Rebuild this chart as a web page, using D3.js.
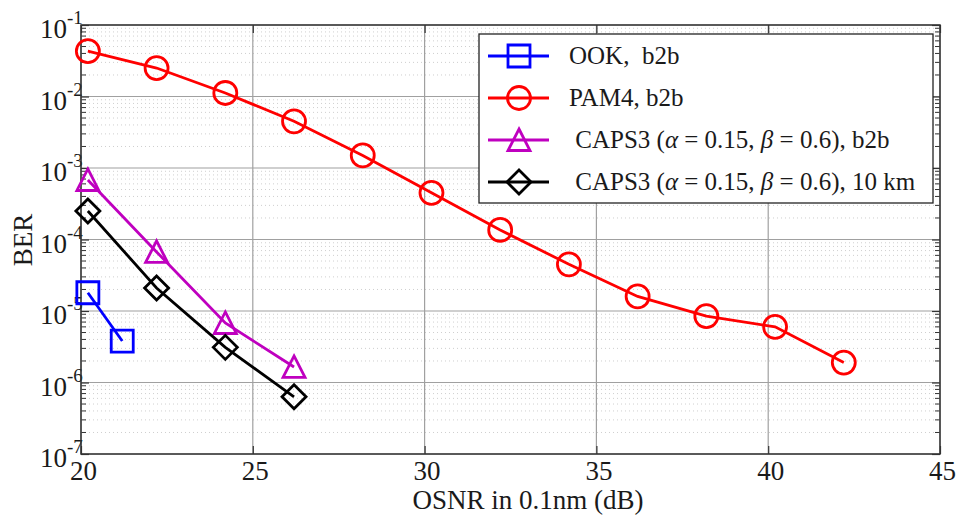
<!DOCTYPE html>
<html>
<head>
<meta charset="utf-8">
<script src="https://cdn.jsdelivr.net/npm/d3@7"></script>
<style>
  body { margin: 0; background: #fff; }
  text { font-family: "Liberation Serif", "Times New Roman", serif; fill: #1a1a1a; }
</style>
</head>
<body>
<script>
'use strict';

// OSNR (dB) values for each curve
const osnrOok = [20.2, 21.2];
const osnrPam4 = [20.2, 22.2, 24.2, 26.2, 28.2, 30.2, 32.2, 34.2, 36.2, 38.2, 40.2, 42.2];
const osnrCaps = [20.2, 22.2, 24.2, 26.2];

// BER values
const berOok = [1.8e-5, 3.8e-6];
const berPam4 = [4.3e-2, 2.5e-2, 1.12e-2, 4.5e-3, 1.5e-3, 4.5e-4, 1.36e-4, 4.5e-5, 1.6e-5, 8.5e-6, 6.0e-6, 1.9e-6];
const berCapsB2b = [6.8e-4, 6.7e-5, 6.8e-6, 1.65e-6];
const berCaps10km = [2.5e-4, 2.1e-5, 3.1e-6, 6.3e-7];

// axis ticks
const xTicks = [20, 25, 30, 35, 40, 45];
const yExponents = [-7, -6, -5, -4, -3, -2, -1];

(function() {

  let svgContainer = "";
  let margin = { left: 81, right: 940, top: 25, bottom: 454 };

  window.onload = function() {
    svgContainer = d3.select('body')
      .append('svg')
      .attr('width', 959)
      .attr('height', 519);

    let xScale = d3.scaleLinear().domain([20, 45]).range([margin.left, margin.right]);
    let yScale = d3.scaleLog().domain([1e-7, 1e-1]).range([margin.bottom, margin.top]);

    drawGrid(xScale, yScale);
    drawAxes(xScale, yScale);

    let series = [
      { name: 'OOK,  b2b', x: osnrOok, y: berOok, color: '#0000ff', marker: 'square' },
      { name: 'PAM4, b2b', x: osnrPam4, y: berPam4, color: '#ff0000', marker: 'circle' },
      { name: 'caps', x: osnrCaps, y: berCapsB2b, color: '#bf00bf', marker: 'triangle', tail: 'b2b' },
      { name: 'caps', x: osnrCaps, y: berCaps10km, color: '#000000', marker: 'diamond', tail: '10 km' }
    ];

    series.forEach((s) => plotSeries(s, xScale, yScale));
    makeLegend(series);
    makeLabels();
  };

  // marker path centred on 0,0
  function markerPath(type) {
    if (type === 'square') return 'M-11,-11H11V11H-11Z';
    if (type === 'triangle') return 'M0,-11L11,10.5H-11Z';
    if (type === 'diamond') return 'M0,-12L12,0L0,12L-12,0Z';
    return null;
  }

  function drawMarker(g, type, color, x, y) {
    if (type === 'circle') {
      g.append('circle')
        .attr('cx', x).attr('cy', y).attr('r', 11.5)
        .attr('fill', 'none').attr('stroke', color).attr('stroke-width', 2.8);
    } else {
      g.append('path')
        .attr('d', markerPath(type))
        .attr('transform', 'translate(' + x + ',' + y + ')')
        .attr('fill', 'none').attr('stroke', color).attr('stroke-width', 2.8)
        .attr('stroke-linejoin', 'miter');
    }
  }

  function drawGrid(xScale, yScale) {
    let grid = svgContainer.append('g');
    // minor horizontal grid (dotted)
    yExponents.slice(0, -1).forEach((e) => {
      for (let m = 2; m <= 9; m++) {
        let yy = yScale(m * Math.pow(10, e));
        grid.append('line')
          .attr('x1', margin.left).attr('x2', margin.right)
          .attr('y1', yy).attr('y2', yy)
          .attr('stroke', '#cfcfcf').attr('stroke-width', 1)
          .attr('stroke-dasharray', '1,3');
        // minor ticks left and right
        grid.append('line')
          .attr('x1', margin.left).attr('x2', margin.left + 5)
          .attr('y1', yy).attr('y2', yy)
          .attr('stroke', '#333').attr('stroke-width', 1);
        grid.append('line')
          .attr('x1', margin.right - 5).attr('x2', margin.right)
          .attr('y1', yy).attr('y2', yy)
          .attr('stroke', '#333').attr('stroke-width', 1);
      }
    });
    // major horizontal grid
    yExponents.forEach((e) => {
      let yy = yScale(Math.pow(10, e));
      grid.append('line')
        .attr('x1', margin.left).attr('x2', margin.right)
        .attr('y1', yy).attr('y2', yy)
        .attr('stroke', '#a0a0a0').attr('stroke-width', 1.2);
    });
    // major vertical grid
    xTicks.forEach((t) => {
      let xx = xScale(t);
      grid.append('line')
        .attr('x1', xx).attr('x2', xx)
        .attr('y1', margin.top).attr('y2', margin.bottom)
        .attr('stroke', '#a0a0a0').attr('stroke-width', 1.2);
    });
  }

  function drawAxes(xScale, yScale) {
    let axes = svgContainer.append('g');

    // bottom x axis
    let xAxis = d3.axisBottom(xScale).tickValues(xTicks).tickSize(-8).tickPadding(7).tickFormat(d3.format('d'));
    let gx = axes.append('g').attr('transform', 'translate(0,' + margin.bottom + ')').call(xAxis);
    gx.select('.domain').remove();
    gx.selectAll('.tick line').attr('stroke', '#333').attr('stroke-width', 1.2);
    gx.selectAll('.tick text')
      .attr('dx', 2)
      .style('font-family', '"Liberation Serif", serif')
      .style('font-size', '27px')
      .attr('fill', '#1a1a1a');

    // top ticks
    let gxTop = axes.append('g').attr('transform', 'translate(0,' + margin.top + ')')
      .call(d3.axisTop(xScale).tickValues(xTicks).tickSize(-8).tickFormat(''));
    gxTop.select('.domain').remove();
    gxTop.selectAll('.tick line').attr('stroke', '#333').attr('stroke-width', 1.2);

    // left/right major ticks
    let yTickVals = yExponents.map((e) => Math.pow(10, e));
    let gyL = axes.append('g').attr('transform', 'translate(' + margin.left + ',0)')
      .call(d3.axisLeft(yScale).tickValues(yTickVals).tickSize(-8).tickFormat(''));
    gyL.select('.domain').remove();
    gyL.selectAll('.tick line').attr('stroke', '#333').attr('stroke-width', 1.2);
    let gyR = axes.append('g').attr('transform', 'translate(' + margin.right + ',0)')
      .call(d3.axisRight(yScale).tickValues(yTickVals).tickSize(-8).tickFormat(''));
    gyR.select('.domain').remove();
    gyR.selectAll('.tick line').attr('stroke', '#333').attr('stroke-width', 1.2);

    // y tick labels 10^e
    yExponents.forEach((e) => {
      let yy = yScale(Math.pow(10, e));
      axes.append('text')
        .attr('x', 67).attr('y', yy + 13)
        .attr('text-anchor', 'end')
        .style('font-size', '27px')
        .text('10');
      axes.append('text')
        .attr('x', 67).attr('y', yy - 1)
        .style('font-size', '19px')
        .text('-' + Math.abs(e));
    });

    // box
    axes.append('rect')
      .attr('x', margin.left).attr('y', margin.top)
      .attr('width', margin.right - margin.left)
      .attr('height', margin.bottom - margin.top)
      .attr('fill', 'none').attr('stroke', '#333').attr('stroke-width', 1.5);
  }

  function plotSeries(s, xScale, yScale) {
    let pts = s.x.map((d, i) => [xScale(d), yScale(s.y[i])]);
    let g = svgContainer.append('g');
    g.append('path')
      .attr('d', d3.line()(pts))
      .attr('fill', 'none')
      .attr('stroke', s.color)
      .attr('stroke-width', 2.8);
    pts.forEach((p) => drawMarker(g, s.marker, s.color, p[0], p[1]));
  }

  function makeLegend(series) {
    let lg = svgContainer.append('g');
    lg.append('rect')
      .attr('x', 479).attr('y', 34)
      .attr('width', 454).attr('height', 169)
      .attr('fill', '#fff').attr('stroke', '#222').attr('stroke-width', 1.3);

    let rows = [56, 98, 140, 182];
    series.forEach((s, i) => {
      let yy = rows[i];
      lg.append('line')
        .attr('x1', 488).attr('x2', 549)
        .attr('y1', yy).attr('y2', yy)
        .attr('stroke', s.color).attr('stroke-width', 2.8);
      drawMarker(lg, s.marker, s.color, 519, yy);

      let t = lg.append('text')
        .attr('x', 569).attr('y', yy + 8)
        .style('font-size', '25px')
        .style('white-space', 'pre');
      if (s.name === 'caps') {
        t.append('tspan').text(' CAPS3 (');
        t.append('tspan').style('font-style', 'italic').text('\u03b1');
        t.append('tspan').text(' = 0.15, ');
        t.append('tspan').style('font-style', 'italic').text('\u03b2');
        t.append('tspan').text(' = 0.6), ' + s.tail);
      } else {
        t.text(s.name);
      }
    });
  }

  function makeLabels() {
    svgContainer.append('text')
      .attr('x', 528).attr('y', 509)
      .attr('text-anchor', 'middle')
      .style('font-size', '27px')
      .text('OSNR in 0.1nm (dB)');

    svgContainer.append('text')
      .attr('transform', 'translate(32, 240)rotate(-90)')
      .attr('text-anchor', 'middle')
      .style('font-size', '27px')
      .text('BER');
  }

})();
</script>
</body>
</html>
